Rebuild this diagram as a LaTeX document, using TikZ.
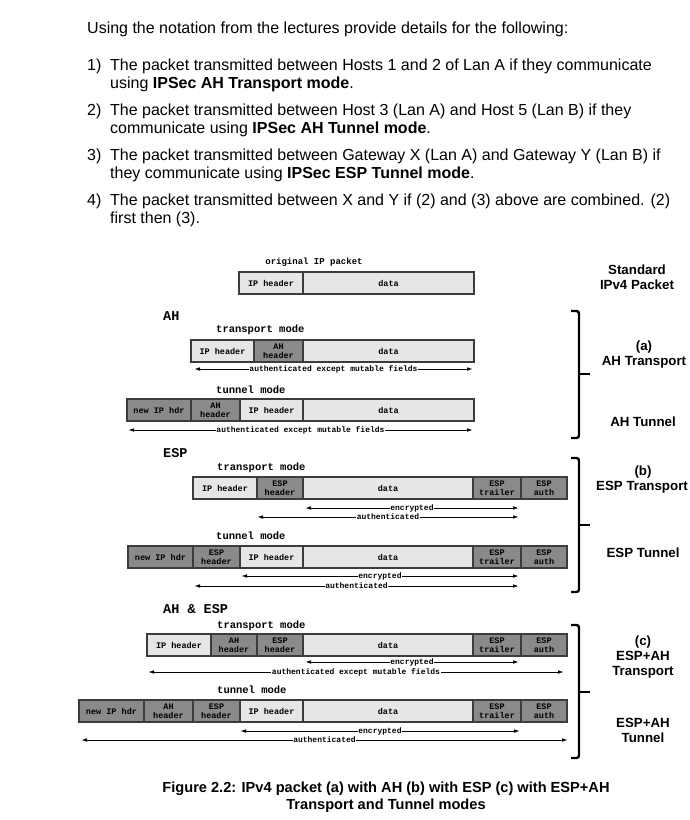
\documentclass[tikz,border=0pt]{standalone}
\usepackage{fontspec}
\setmainfont{Liberation Sans}
\newfontfamily\cour{Liberation Mono}
\usetikzlibrary{arrows.meta}
\definecolor{ltgray}{HTML}{E6E6E6}
\definecolor{dkgray}{HTML}{8A8A8A}
\definecolor{bordergray}{HTML}{3C3C3C}
\newcommand\pcell[7]{\node[#2, minimum width={(#4-#3)*1pt}, minimum height={(#6-#5)*1pt}] (#1) at ({(#3+#4)/2},{(#5+#6)/2}) {#7};}
\newcommand\pspan[6]{%
  \coordinate (#1l) at (#3,#2);
  \coordinate (#1r) at (#4,#2);
  \draw[spanarrow] (#1l) -- node[spanlabel] (#1t) {#5} (#1r);}
\begin{document}
\begin{tikzpicture}[x=1pt,y=-1pt,
  cellbase/.style={draw=bordergray, line width=1.1pt, inner sep=0pt, outer sep=0pt,
    font=\cour\bfseries\fontsize{8.5}{9.5}\selectfont, align=center},
  lt/.style={cellbase, fill=ltgray},
  dk/.style={cellbase, fill=dkgray},
  heading/.style={font=\cour\bfseries\fontsize{13.5}{15}\selectfont, anchor=west, inner sep=0pt},
  modetext/.style={font=\cour\bfseries\fontsize{10.5}{12}\selectfont, anchor=west, inner sep=0pt},
  spanarrow/.style={{Latex[length=6pt,width=3.6pt]}-{Latex[length=6pt,width=3.6pt]}, line width=1pt},
  spanlabel/.style={fill=white, inner sep=0.6pt, font=\cour\bfseries\fontsize{8}{9}\selectfont},
  bracketline/.style={line width=2.4pt, rounded corners=2.5pt},
  side/.style={font=\bfseries\fontsize{13.3}{15}\selectfont, align=center, inner sep=0pt},
  intro/.style={anchor=base west, inner sep=0pt, font=\fontsize{16}{18.7}\selectfont},
]
\fill[white] (0,0) rectangle (689,820);
\useasboundingbox (0,0) rectangle (689,820);

% intro text
\node[intro] (t0) at (87,33) {Using the notation from the lectures provide details for the following:};
\node[intro] (n1) at (87,70) {1)};
\node[intro] (t1a) at (110,70) {The packet transmitted between Hosts 1 and 2 of Lan A if they communicate};
\node[intro] (t1b) at (110,88.5) {using \textbf{IPSec AH Transport mode}.};
\node[intro] (n2) at (87,115) {2)};
\node[intro] (t2a) at (110,115) {The packet transmitted between Host 3 (Lan A) and Host 5 (Lan B) if they};
\node[intro] (t2b) at (110,133.5) {communicate using \textbf{IPSec AH Tunnel mode}.};
\node[intro] (n3) at (87,160) {3)};
\node[intro] (t3a) at (110,160) {The packet transmitted between Gateway X (Lan A) and Gateway Y (Lan B) if};
\node[intro] (t3b) at (110,178.5) {they communicate using \textbf{IPSec ESP Tunnel mode}.};
\node[intro] (n4) at (87,205) {4)};
\node[intro] (t4a) at (110,205) {The packet transmitted between X and Y if (2) and (3) above are combined. (2)};
\node[intro] (t4b) at (110,223.5) {first then (3).};

% original packet
\node[modetext, font=\cour\bfseries\fontsize{9}{10}\selectfont, anchor=center] (origlbl) at (314,262) {original IP packet};
\pcell{o1}{lt}{239}{303}{272}{294}{IP header}
\pcell{o2}{lt}{303}{474}{272}{294}{data}

% AH
\node[heading] (ahh) at (163,316) {AH};
\node[modetext] (aht) at (216,330) {transport mode};
\pcell{a1}{lt}{191}{254}{340}{362}{IP header}
\pcell{a2}{dk}{254}{303}{340}{362}{AH\\header}
\pcell{a3}{lt}{303}{474}{340}{362}{data}
\pspan{sa}{369}{194}{473}{authenticated except mutable fields}{}
\node[modetext] (ahn) at (216,390) {tunnel mode};
\pcell{b1}{dk}{127}{191}{399}{421}{new IP hdr}
\pcell{b2}{dk}{191}{240}{399}{421}{AH\\header}
\pcell{b3}{lt}{240}{303}{399}{421}{IP header}
\pcell{b4}{lt}{303}{474}{399}{421}{data}
\pspan{sb}{430}{128}{473}{authenticated except mutable fields}{}

% ESP
\node[heading] (esph) at (163,453) {ESP};
\node[modetext] (espt) at (217,468) {transport mode};
\pcell{c1}{lt}{193}{257}{477}{499}{IP header}
\pcell{c2}{dk}{257}{303}{477}{499}{ESP\\header}
\pcell{c3}{lt}{303}{473}{477}{499}{data}
\pcell{c4}{dk}{473}{521}{477}{499}{ESP\\trailer}
\pcell{c5}{dk}{521}{567}{477}{499}{ESP\\auth}
\pspan{sc}{508}{305}{519}{encrypted}{}
\pspan{sd}{517}{257}{519}{authenticated}{}
\node[modetext] (espn) at (216,536) {tunnel mode};
\pcell{d1}{dk}{128}{193}{546}{568}{new IP hdr}
\pcell{d2}{dk}{193}{240}{546}{568}{ESP\\header}
\pcell{d3}{lt}{240}{303}{546}{568}{IP header}
\pcell{d4}{lt}{303}{473}{546}{568}{data}
\pcell{d5}{dk}{473}{521}{546}{568}{ESP\\trailer}
\pcell{d6}{dk}{521}{567}{546}{568}{ESP\\auth}
\pspan{se}{576}{241}{519}{encrypted}{}
\pspan{sf}{586}{194}{519}{authenticated}{}

% AH & ESP
\node[heading] (bothh) at (163,609) {AH \& ESP};
\node[modetext] (botht) at (217,626) {transport mode};
\pcell{e1}{lt}{147}{211}{634}{656}{IP header}
\pcell{e2}{dk}{211}{257}{634}{656}{AH\\header}
\pcell{e3}{dk}{257}{303}{634}{656}{ESP\\header}
\pcell{e4}{lt}{303}{473}{634}{656}{data}
\pcell{e5}{dk}{473}{521}{634}{656}{ESP\\trailer}
\pcell{e6}{dk}{521}{567}{634}{656}{ESP\\auth}
\pspan{sg}{662}{305}{519}{encrypted}{}
\pspan{sh}{672}{148}{564}{authenticated except mutable fields}{}
\node[modetext] (bothn) at (217,690) {tunnel mode};
\pcell{f1}{dk}{79}{144}{700}{722}{new IP hdr}
\pcell{f2}{dk}{144}{193}{700}{722}{AH\\header}
\pcell{f3}{dk}{193}{240}{700}{722}{ESP\\header}
\pcell{f4}{lt}{240}{303}{700}{722}{IP header}
\pcell{f5}{lt}{303}{473}{700}{722}{data}
\pcell{f6}{dk}{473}{521}{700}{722}{ESP\\trailer}
\pcell{f7}{dk}{521}{567}{700}{722}{ESP\\auth}
\pspan{si}{731}{240}{520}{encrypted}{}
\pspan{sj}{740}{81}{568}{authenticated}{}

% brackets
\draw[bracketline] (571,311) -- (579,311) -- (579,438) -- (571,438);
\draw[line width=2.4pt] (579,374) -- (590,374);
\draw[bracketline] (571,458) -- (579,458) -- (579,592) -- (571,592);
\draw[line width=2.4pt] (579,525) -- (590,525);
\draw[bracketline] (571,625) -- (579,625) -- (579,758) -- (571,758);
\draw[line width=2.4pt] (579,692) -- (590,692);

% side labels
\node[side] (s0) at (637,277) {Standard\\IPv4 Packet};
\node[side] (s1) at (644,355) {(a)\\AH Transport};
\node[side] (s2) at (643,422) {AH Tunnel};
\node[side] (s3) at (643,472) {(b)};
\node[side, anchor=west] (s4) at (596,487) {ESP Transport};
\node[side] (s5) at (643,553) {ESP Tunnel};
\node[side] (s6) at (643,657) {(c)\\ESP+AH\\Transport};
\node[side] (s7) at (643,730) {ESP+AH\\Tunnel};

% caption
\node[align=center, inner sep=0pt, font=\bfseries\fontsize{14.6}{17.5}\selectfont] (cap) at (386,797) {Figure 2.2: IPv4 packet (a) with AH (b) with ESP (c) with ESP+AH\\Transport and Tunnel modes};
\end{tikzpicture}
\end{document}
